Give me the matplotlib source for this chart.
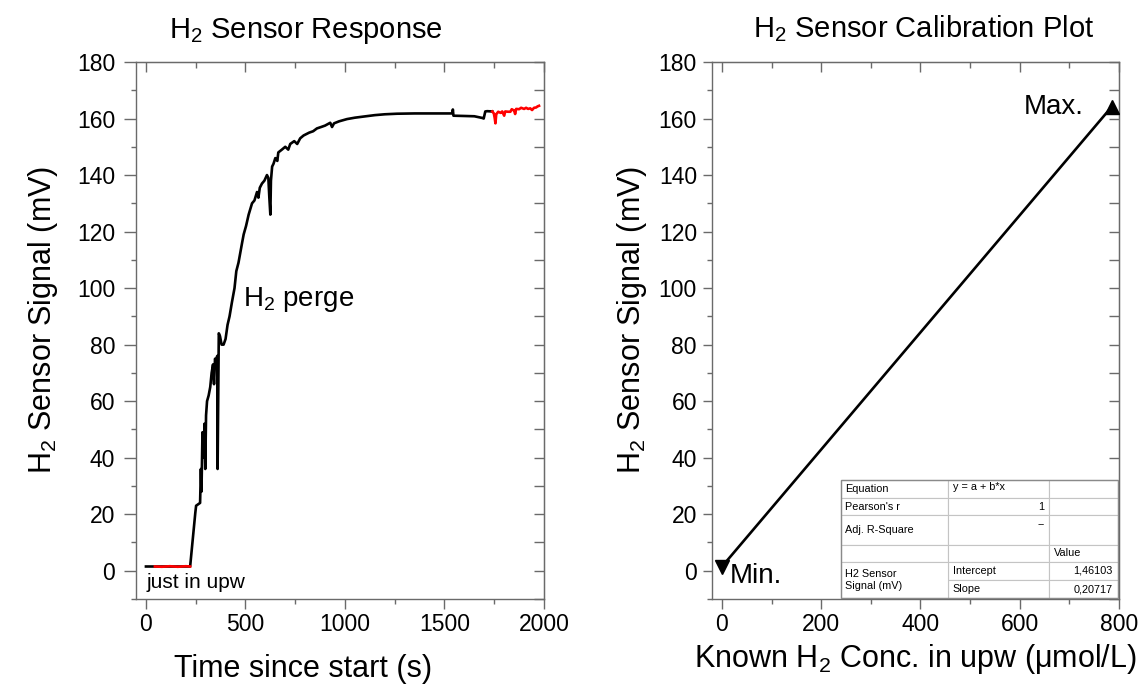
import matplotlib
matplotlib.use("Agg")
import matplotlib.pyplot as plt
from matplotlib.ticker import MultipleLocator
from matplotlib.patches import Rectangle

plt.rcParams["font.family"] = ["Liberation Sans", "DejaVu Sans"]
plt.rcParams["mathtext.fontset"] = "custom"
plt.rcParams["mathtext.rm"] = "Liberation Sans"
plt.rcParams["mathtext.it"] = "Liberation Sans:italic"
plt.rcParams["mathtext.default"] = "regular"

# ---- data: sensor response ----
time_s = [0, 45, 222, 248, 252, 262, 272, 276, 279, 284, 290, 294, 298, 302, 307,
          315, 323, 330, 337, 342, 347, 353, 358, 360, 363, 366, 372, 380, 390,
          400, 410, 420, 432, 445, 454, 465, 474, 483, 491, 503, 516, 533, 545,
          558, 565, 572, 583, 595, 608, 615, 620, 625, 628, 634, 641, 650, 660,
          665, 683, 700, 715, 725, 745, 760, 775, 792, 820, 840, 859, 880, 900,
          926, 935, 945, 970, 1010, 1050, 1094, 1150, 1200, 1261, 1350, 1429,
          1500, 1540, 1542, 1545, 1600, 1650, 1690, 1697, 1705, 1714, 1740]
signal_mv = [1.5, 1.5, 1.5, 20.5, 23, 23.5, 24, 36, 28, 49, 40, 52, 36, 55, 60,
             62, 65, 70, 73, 66, 75, 74, 76, 36, 60, 84, 83, 80, 80,
             82, 87, 90, 95, 100, 106, 109, 112.5, 116, 119, 122, 126, 130, 131,
             134, 132, 135.5, 137, 138, 140, 139, 132, 126, 138, 143, 144, 146, 145,
             148, 149, 150, 149, 151, 152, 151, 153, 154, 155, 155.5, 156.5, 157, 157.5,
             158.5, 157, 158.3, 159, 159.8, 160.3, 160.7, 161.2, 161.5, 161.7, 161.8, 161.8,
             161.8, 161.8, 163.2, 161.0, 160.9, 160.8, 160.2, 160, 162.5, 162.6, 162.5]

# red segments: baseline (just in upw) and final plateau
base_time = [45, 80, 120, 160, 200, 222]
base_mv = [1.5, 1.4, 1.6, 1.4, 1.6, 1.5]
end_time = [1740, 1748, 1752, 1756, 1760, 1770, 1782, 1790, 1800, 1805, 1820,
            1831, 1838, 1845, 1850, 1855, 1860, 1875, 1885, 1900, 1910, 1920,
            1931, 1940, 1950, 1960, 1968, 1975]
end_mv = [162.5, 161.8, 160.3, 158.3, 161.5, 162.4, 162.0, 162.5, 161.0, 162.5, 162.4,
          162.4, 163.3, 163.0, 162.8, 161.6, 163.4, 163.3, 163.8, 163.4, 163.8, 163.4,
          163.6, 163.0, 163.8, 163.9, 164.3, 164.5]

# ---- data: calibration ----
cal_conc = [0, 785]
cal_signal = [1.46, 164.1]

table_rows = [
    ["Equation", "y = a + b*x", ""],
    ["Pearson's r", "1", ""],
    ["Adj. R-Square", "--", ""],
    ["", "", "Value"],
    ["H2 Sensor\nSignal (mV)", "Intercept", "1,46103"],
    ["", "Slope", "0,20717"],
]

SPINE = "#6a6a6a"


def style_axes(ax, xmajor, xminor, ylen, ypad):
    ax.set_ylim(-10, 180)
    ax.yaxis.set_major_locator(MultipleLocator(20))
    ax.yaxis.set_minor_locator(MultipleLocator(10))
    ax.xaxis.set_major_locator(MultipleLocator(xmajor))
    ax.xaxis.set_minor_locator(MultipleLocator(xminor))
    for s in ax.spines.values():
        s.set_color(SPINE)
        s.set_linewidth(1.0)
    ax.tick_params(which="both", direction="out", color=SPINE, width=1.0,
                   labelsize=16.5)
    ax.tick_params(axis="x", which="major", length=7, pad=3)
    ax.tick_params(axis="x", which="minor", length=3.5)
    ax.tick_params(axis="y", which="major", length=ylen, pad=ypad)
    ax.tick_params(axis="y", which="minor", length=3.5)

    # mirror axes with inward ticks (top / right)
    top = ax.secondary_xaxis("top")
    top.xaxis.set_major_locator(MultipleLocator(xmajor))
    top.xaxis.set_minor_locator(MultipleLocator(xminor))
    top.tick_params(which="both", direction="in", color=SPINE, width=1.0,
                    labeltop=False)
    top.tick_params(which="major", length=7)
    top.tick_params(which="minor", length=4)
    top.spines["top"].set_color(SPINE)
    right = ax.secondary_yaxis("right")
    right.yaxis.set_major_locator(MultipleLocator(20))
    right.yaxis.set_minor_locator(MultipleLocator(10))
    right.tick_params(which="both", direction="in", color=SPINE, width=1.0,
                      labelright=False)
    right.tick_params(which="major", length=7)
    right.tick_params(which="minor", length=7)
    right.spines["right"].set_color(SPINE)


fig = plt.figure(figsize=(11.44, 6.84), dpi=100)
fig.patch.set_facecolor("white")

# ---------------- left panel ----------------
ax1 = fig.add_axes([136 / 1144, 85 / 684, 408 / 1144, 537 / 684])
ax1.plot(time_s, signal_mv, color="black", linewidth=1.9, zorder=3)
ax1.plot(base_time, base_mv, color="red", linewidth=1.9, zorder=4)
ax1.plot(end_time, end_mv, color="red", linewidth=1.9, zorder=4)
ax1.set_xlim(-50, 2000)
style_axes(ax1, 500, 250, 8.6, 6.5)

ax1.text(487, 96, "H$_2$ perge", fontsize=20, va="center", ha="left")
ax1.text(5, -4.3, "just in upw", fontsize=15, va="center", ha="left")

ax1.set_title("H$_2$ Sensor Response", fontsize=21, x=0.417, pad=17.5)
ax1.set_xlabel("Time since start (s)", fontsize=22)
ax1.set_ylabel("H$_2$ Sensor Signal (mV)", fontsize=22)
ax1.xaxis.set_label_coords(0.41, -0.102)
ax1.yaxis.set_label_coords(-0.186, 0.52)

# ---------------- right panel ----------------
ax2 = fig.add_axes([712 / 1144, 85 / 684, 407 / 1144, 537 / 684])
ax2.plot(cal_conc, cal_signal, color="black", linewidth=1.9, zorder=3)
ax2.plot(cal_conc[1], cal_signal[1], marker="^", color="black", markersize=10,
         zorder=4)
ax2.plot(cal_conc[0], cal_signal[0], marker="v", color="black", markersize=10,
         zorder=4)
ax2.set_xlim(-20, 800)
style_axes(ax2, 200, 100, 6.5, 4.3)

ax2.text(728, 164, "Max.", fontsize=20, va="center", ha="right")
ax2.text(16, -1.8, "Min.", fontsize=20, va="center", ha="left")

ax2.set_title("H$_2$ Sensor Calibration Plot", fontsize=21, x=0.521, pad=17.5)
ax2.set_xlabel("Known H$_2$ Conc. in upw (μmol/L)", fontsize=22)
ax2.set_ylabel("H$_2$ Sensor Signal (mV)", fontsize=22)
ax2.xaxis.set_label_coords(0.5, -0.08)
ax2.yaxis.set_label_coords(-0.156, 0.52)

# fit results table (axes fractions)
col_x = [0.316, 0.579, 0.829, 0.997]
row_y = [0.2216, 0.1875, 0.1564, 0.1006, 0.0695, 0.0354, 0.0013]
grid_c = "#c4c4c4"
tf = 7.8
for r in range(6):
    for c in range(3):
        if c == 0 and r in (4, 5):
            continue
        ax2.add_patch(Rectangle((col_x[c], row_y[r + 1]),
                                col_x[c + 1] - col_x[c], row_y[r] - row_y[r + 1],
                                transform=ax2.transAxes, facecolor="white",
                                edgecolor=grid_c, linewidth=0.8, zorder=5))
ax2.add_patch(Rectangle((col_x[0], row_y[6]), col_x[1] - col_x[0],
                        row_y[4] - row_y[6], transform=ax2.transAxes,
                        facecolor="white", edgecolor=grid_c, linewidth=0.8,
                        zorder=5))
ax2.add_patch(Rectangle((col_x[0], row_y[6]), col_x[3] - col_x[0],
                        row_y[0] - row_y[6], transform=ax2.transAxes,
                        facecolor="none", edgecolor="#8a8a8a", linewidth=1.0,
                        zorder=6))

pad = 0.012
for r, row in enumerate(table_rows):
    for c, txt in enumerate(row):
        if not txt:
            continue
        y, va = (row_y[r] + row_y[r + 1]) / 2, "center"
        if c == 0 and r == 4:
            y = (row_y[4] + row_y[6]) / 2
        if txt in ("1", "--", "1,46103", "0,20717"):
            x, ha = col_x[c + 1] - pad, "right"
        else:
            x, ha = col_x[c] + pad, "left"
        if txt == "y = a + b*x":
            y, va = row_y[r] - 0.004, "top"
        elif txt == "--":
            y, va = row_y[r] - 0.008, "top"
        ax2.text(x, y, txt, transform=ax2.transAxes, fontsize=tf, ha=ha,
                 va=va, zorder=7, linespacing=1.35)

fig.savefig("out.png", dpi=100, facecolor="white")
